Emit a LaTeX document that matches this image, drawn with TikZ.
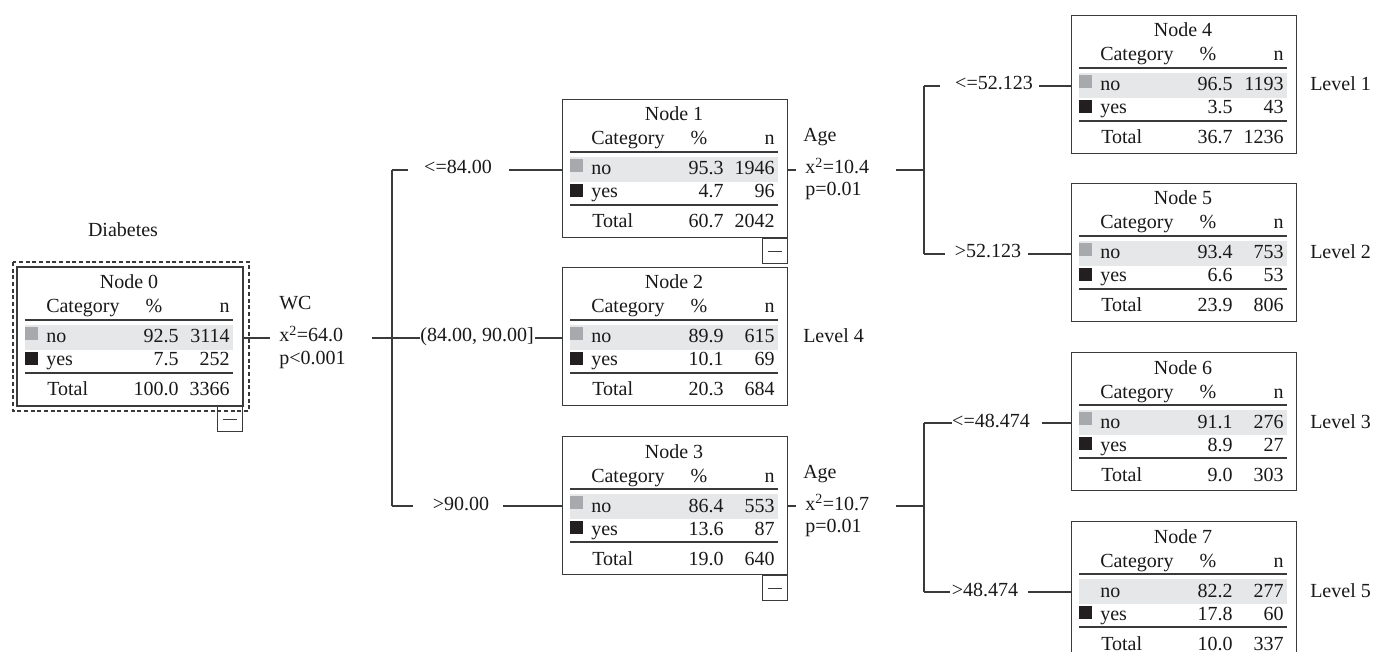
\documentclass[tikz,border=0pt]{standalone}
\usepackage{fontspec}
\setmainfont{Liberation Serif}
\usetikzlibrary{calc}
\definecolor{linec}{HTML}{3A3A3A}
\definecolor{bandc}{HTML}{E6E7E8}
\definecolor{sqg}{HTML}{A7A9AC}
\definecolor{sqk}{HTML}{231F20}
\newif\ifgreysq \greysqtrue
\newcommand\fs{\fontsize{15}{17}\selectfont}
\tikzset{
 conn/.style={draw=linec, line width=0.9pt},
 tbox/.style={draw=linec, line width=0.9pt, anchor=north west, minimum width=168.75pt, minimum height=103.5pt, inner sep=0pt},
 txt/.style={inner sep=0pt, anchor=base, font=\fs, text=black!90},
 txtl/.style={txt, anchor=base west},
 txtr/.style={txt, anchor=base east},
 lab/.style={inner sep=0pt, font=\fs, text=black!90, text height=8pt, text depth=2pt},
 minusbox/.style={draw=linec, line width=0.9pt, anchor=north east, minimum width=18.75pt, minimum height=18.75pt, inner sep=0pt},
}
% #1 name, #2 (L,T), #3 number, #4 p no, #5 n no, #6 p yes, #7 n yes, #8 p total, #9 n total
\newcommand\ctable[9]{%
 \begin{scope}[shift={#2}]
  \fill[bandc] (8,58) rectangle (216,83);
  \ifgreysq\fill[sqg] (8,60) rectangle (21,73);\fi
  \fill[sqk] (8,85) rectangle (21,98);
  \draw[conn] (8,53) -- (216,53);
  \draw[conn] (8,106) -- (216,106);
  \node[tbox] (#1) at (0,0) {};
  \node[txt]  (#1-t)  at (112,22) {Node #3};
  \node[txtl] (#1-c)  at (29,46) {Category};
  \node[txt]  (#1-pc) at (137,46) {\%};
  \node[txtr] (#1-nc) at (213,46) {n};
  \node[txtl] (#1-no) at (29,76) {no};
  \node[txtr] (#1-p1) at (162,76) {#4};
  \node[txtr] (#1-n1) at (213,76) {#5};
  \node[txtl] (#1-ye) at (29,99) {yes};
  \node[txtr] (#1-p2) at (162,99) {#6};
  \node[txtr] (#1-n2) at (213,99) {#7};
  \node[txtl] (#1-to) at (30,129) {Total};
  \node[txtr] (#1-p3) at (162,129) {#8};
  \node[txtr] (#1-n3) at (213,129) {#9};
 \end{scope}}
\newcommand\minusmark[1]{%
  \node[minusbox] (#1m) at (#1.south east) {};
  \draw[conn] ([xshift=-5.5pt]#1m.center) -- ([xshift=5.5pt]#1m.center);}
\begin{document}
\begin{tikzpicture}[x=0.75pt,y=-0.75pt]
\useasboundingbox (0,0) rectangle (1375,652);
\clip (0,0) rectangle (1375,652);
\fill[white] (0,0) rectangle (1375,652);

% root
\node[txt] (title) at (123,237) {Diabetes};
\draw[linec, line width=0.8pt, dash pattern=on 3pt off 2pt] (13,262) rectangle (249,411);
\ctable{n0}{(17,267)}{0}{92.5}{3114}{7.5}{252}{100.0}{3366}
\draw[linec, line width=1.6pt] (n0.north west) rectangle (n0.south east);
\minusmark{n0}

% level-1 nodes
\ctable{n1}{(562,99)}{1}{95.3}{1946}{4.7}{96}{60.7}{2042}
\minusmark{n1}
\ctable{n2}{(562,267)}{2}{89.9}{615}{10.1}{69}{20.3}{684}
\ctable{n3}{(562,436)}{3}{86.4}{553}{13.6}{87}{19.0}{640}
\minusmark{n3}

% level-2 nodes
\ctable{n4}{(1071,15)}{4}{96.5}{1193}{3.5}{43}{36.7}{1236}
\ctable{n5}{(1071,183)}{5}{93.4}{753}{6.6}{53}{23.9}{806}
\ctable{n6}{(1071,352)}{6}{91.1}{276}{8.9}{27}{9.0}{303}
\greysqfalse
\ctable{n7}{(1071,521)}{7}{82.2}{277}{17.8}{60}{10.0}{337}
\greysqtrue

% split statistics
\node[txtl] (s0a) at (279,310) {WC};
\node[txtl] (s0b) at (279,342) {x\textsuperscript{2}=64.0};
\node[txtl] (s0c) at (279,364) {p<0.001};
\node[txtl] (s1a) at (803,142) {Age};
\node[txtl] (s1b) at (805,174) {x\textsuperscript{2}=10.4};
\node[txtl] (s1c) at (805,196) {p=0.01};
\node[txtl] (s3a) at (803,478) {Age};
\node[txtl] (s3b) at (805,510) {x\textsuperscript{2}=10.7};
\node[txtl] (s3c) at (805,532) {p=0.01};

% level labels
\node[txtl] (lv1) at (1310,91) {Level 1};
\node[txtl] (lv2) at (1310,259) {Level 2};
\node[txtl] (lv3) at (1310,428) {Level 3};
\node[txtl] (lv4) at (803,343) {Level 4};
\node[txtl] (lv5) at (1310,597) {Level 5};

% root split connectors
\coordinate (w0a) at (270,338);
\coordinate (w0b) at (372,338);
\coordinate (j0) at (392,338);
\coordinate (t1) at (392,170);
\coordinate (t3) at (392,506);
\draw[conn] (n0.east |- w0a) -- (w0a);
\draw[conn] (w0b) -- (j0);
\draw[conn] (t1) -- (t3);

\node[lab] (l1) at (458,170) {<=84.00};
\node[lab] (l2) at (477,338) {(84.00, 90.00]};
\node[lab] (l3) at (461,506) {>90.00};
\coordinate (a1) at (408,170); \coordinate (b1) at (509,170);
\coordinate (a2) at (420,338); \coordinate (b2) at (535,338);
\coordinate (a3) at (413,506); \coordinate (b3) at (503,506);
\draw[conn] (t1) -- (a1);
\draw[conn] (b1) -- (n1.west |- b1);
\draw[conn] (j0) -- (a2);
\draw[conn] (b2) -- (n2.west |- b2);
\draw[conn] (t3) -- (a3);
\draw[conn] (b3) -- (n3.west |- b3);

% node 1 split
\coordinate (c1a) at (796,170);
\coordinate (c1b) at (896,170);
\coordinate (j1) at (924,170);
\coordinate (t4) at (924,86);
\coordinate (t5) at (924,254);
\draw[conn] (n1.east |- c1a) -- (c1a);
\draw[conn] (c1b) -- (j1);
\draw[conn] (t4) -- (t5);
\node[lab] (l4) at (994,86) {<=52.123};
\node[lab] (l5) at (988,254) {>52.123};
\coordinate (a4) at (940,86); \coordinate (b4) at (1039,86);
\coordinate (a5) at (945,254); \coordinate (b5) at (1028,254);
\draw[conn] (t4) -- (a4);
\draw[conn] (b4) -- (n4.west |- b4);
\draw[conn] (t5) -- (a5);
\draw[conn] (b5) -- (n5.west |- b5);

% node 3 split
\coordinate (c3a) at (796,506);
\coordinate (c3b) at (896,506);
\coordinate (j3) at (924,506);
\coordinate (t6) at (924,423);
\coordinate (t7) at (924,592);
\draw[conn] (n3.east |- c3a) -- (c3a);
\draw[conn] (c3b) -- (j3);
\draw[conn] (t6) -- (t7);
\node[lab] (l6) at (991,423) {<=48.474};
\node[lab] (l7) at (985,592) {>48.474};
\coordinate (a6) at (952,423); \coordinate (b6) at (1042,423);
\coordinate (a7) at (950,592); \coordinate (b7) at (1028,592);
\draw[conn] (t6) -- (a6);
\draw[conn] (b6) -- (n6.west |- b6);
\draw[conn] (t7) -- (a7);
\draw[conn] (b7) -- (n7.west |- b7);
\end{tikzpicture}
\end{document}
